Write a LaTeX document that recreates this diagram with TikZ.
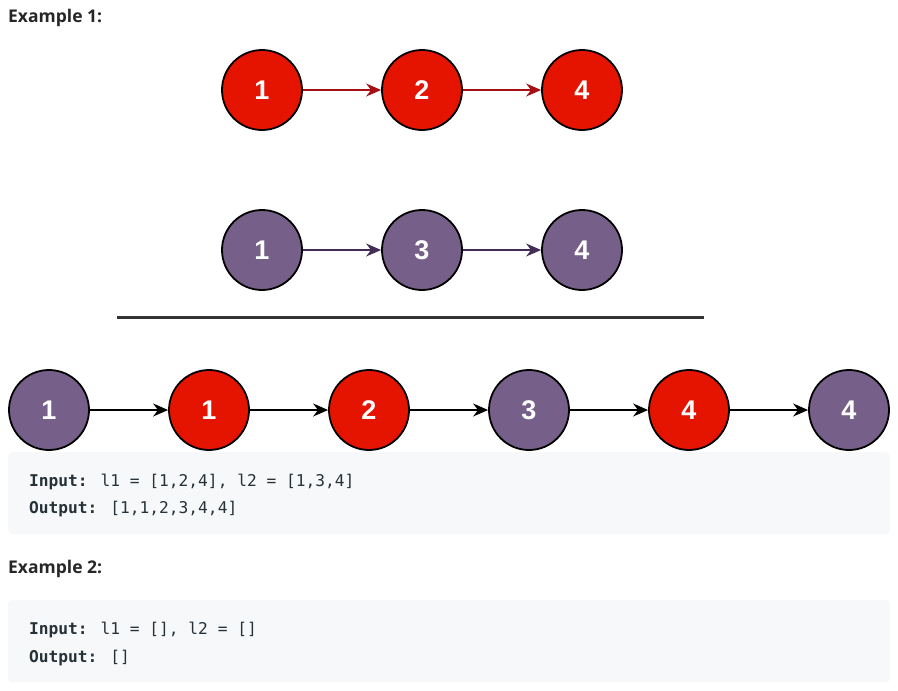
\documentclass[tikz,border=0pt]{standalone}
\usepackage{fontspec}
\setmainfont{Open Sans}
\newfontfamily\nodefont{Liberation Sans}
\newfontfamily\codefont{DejaVu Sans Mono}
\usetikzlibrary{arrows.meta}
\definecolor{nred}{HTML}{E51400}
\definecolor{npurple}{HTML}{76608A}
\definecolor{ared}{HTML}{A50F15}
\definecolor{apurple}{HTML}{432D57}
\definecolor{codebg}{HTML}{F7F8FA}
\definecolor{titlec}{HTML}{262626}
\definecolor{codec}{HTML}{263238}
\tikzset{
  listnode/.style={circle, draw=black, line width=1.8pt, minimum size=80pt, inner sep=0pt,
    text=white, font=\nodefont\bfseries\fontsize{27}{27}\selectfont},
  rednode/.style={listnode, fill=nred},
  purplenode/.style={listnode, fill=npurple},
  link/.style={line width=1.5pt, -{Stealth[length=15pt,width=13pt]}},
  title/.style={anchor=west, inner sep=0pt, text=titlec, font=\bfseries\fontsize{17.5}{17.5}\selectfont},
  codebox/.style={fill=codebg, rounded corners=4pt},
  code/.style={anchor=base west, inner sep=0pt, text=codec, font=\codefont\fontsize{16.2}{16.2}\selectfont},
}
\begin{document}
\begin{tikzpicture}[x=1pt,y=-1pt]
\useasboundingbox (0,0) rectangle (898,691);
\node[title] (t1) at (8,18) {Example 1:};
% list 1
\node[rednode] (a1) at (262,90) {1};
\node[rednode] (a2) at (422,90) {2};
\node[rednode] (a3) at (582,90) {4};
\draw[link, draw=ared, fill=ared] (a1) -- (a2);
\draw[link, draw=ared, fill=ared] (a2) -- (a3);
% list 2
\node[purplenode] (b1) at (262,250) {1};
\node[purplenode] (b2) at (422,250) {3};
\node[purplenode] (b3) at (582,250) {4};
\draw[link, draw=apurple, fill=apurple] (b1) -- (b2);
\draw[link, draw=apurple, fill=apurple] (b2) -- (b3);
% separator
\coordinate (s1) at (117,317);
\coordinate (s2) at (704,317);
\draw[line width=3pt, draw=black!80] (s1) -- (s2);
% merged
\node[purplenode] (c1) at (49,410) {1};
\node[rednode] (c2) at (209,410) {1};
\node[rednode] (c3) at (369,410) {2};
\node[purplenode] (c4) at (529,410) {3};
\node[rednode] (c5) at (689,410) {4};
\node[purplenode] (c6) at (849,410) {4};
\foreach \i/\j in {c1/c2,c2/c3,c3/c4,c4/c5,c5/c6}
  \draw[link] (\i) -- (\j);
% code box 1
\node[codebox, minimum width=882pt, minimum height=82pt, anchor=north west, inner sep=0pt] (box1) at (8,452) {};
\node[code] (in1) at (29,486) {\textbf{Input:} l1 = [1,2,4], l2 = [1,3,4]};
\node[code] (out1) at (29,513) {\textbf{Output:} [1,1,2,3,4,4]};
% example 2
\node[title] (t2) at (8,569) {Example 2:};
\node[codebox, minimum width=882pt, minimum height=82pt, anchor=north west, inner sep=0pt] (box2) at (8,600) {};
\node[code] (in2) at (29,634) {\textbf{Input:} l1 = [], l2 = []};
\node[code] (out2) at (29,662) {\textbf{Output:} []};
\end{tikzpicture}
\end{document}
